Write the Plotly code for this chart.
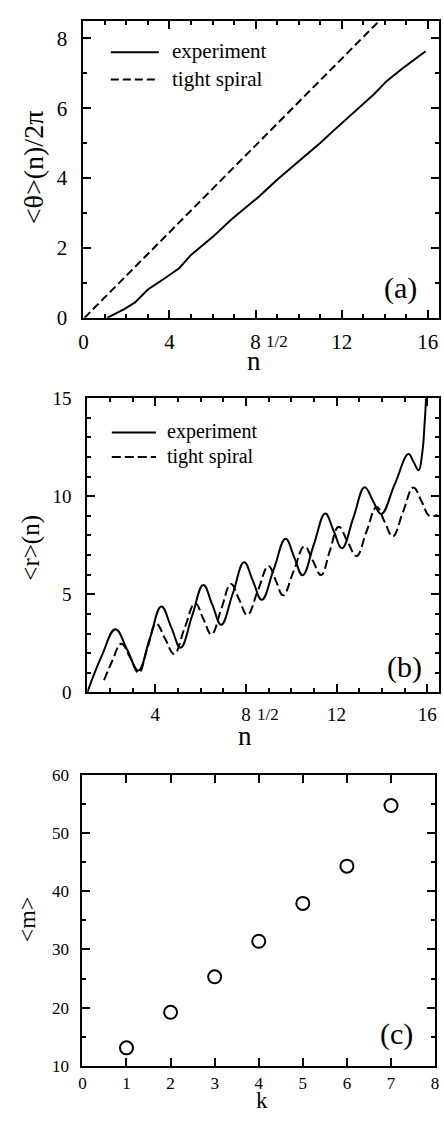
import plotly.graph_objects as go

W, H = 444, 1122

# ---------------- data ----------------
# panel (a): <theta>(n)/2pi vs n^{1/2}
a_exp_x = [1.1, 1.9, 2.4, 3.0, 3.8, 4.45, 5.0, 6.0, 6.9, 8.1, 9.0, 10.0, 11.0, 11.7, 12.7, 13.5, 14.1, 14.85, 15.9]
a_exp_y = [0.0, 0.25, 0.44, 0.81, 1.14, 1.42, 1.8, 2.31, 2.83, 3.44, 3.95, 4.47, 5.0, 5.4, 5.96, 6.4, 6.78, 7.15, 7.63]
a_tight_x = [0.05, 13.75]
a_tight_y = [0.0, 8.5]

# panel (b): <r>(n) vs n^{1/2}
b_exp_x = [1.0, 1.65, 2.24, 2.75, 3.25, 3.76, 4.27, 4.7, 5.12, 5.62, 6.12, 6.52, 6.91, 7.42, 7.92,
           8.31, 8.7, 9.23, 9.75, 10.13, 10.5, 11.0, 11.5, 11.87, 12.24, 12.74, 13.24, 13.6, 13.97,
           14.57, 15.17, 15.4, 15.62, 15.78, 15.88, 15.95]
b_exp_y = [0.0, 1.9, 3.22, 2.2, 1.12, 2.75, 4.38, 3.33, 2.28, 3.88, 5.48, 4.46, 3.45, 5.04, 6.63,
           5.68, 4.72, 6.28, 7.83, 6.9, 5.97, 7.55, 9.12, 8.24, 7.35, 8.9, 10.46, 9.78, 9.1,
           10.62, 12.15, 11.75, 11.33, 12.2, 13.6, 15.0]
b_tight_x = [1.74, 2.1, 2.5, 2.9, 3.27, 3.65, 4.04, 4.44, 4.83, 5.3, 5.76, 6.12, 6.48, 6.91, 7.34,
             7.7, 8.06, 8.53, 9.0, 9.32, 9.64, 10.11, 10.58, 10.95, 11.32, 11.7, 12.09, 12.48,
             12.88, 13.32, 13.77, 14.12, 14.48, 14.93, 15.39, 15.75, 16.1, 16.45]
b_tight_y = [0.62, 1.6, 2.48, 1.75, 1.0, 2.25, 3.5, 2.72, 1.95, 3.3, 4.55, 3.75, 2.95, 4.24, 5.53,
             4.74, 3.95, 5.2, 6.45, 5.7, 4.95, 6.2, 7.45, 6.72, 5.98, 7.2, 8.45, 7.7,
             6.95, 8.2, 9.45, 8.7, 7.95, 9.2, 10.45, 9.75, 9.0, 9.05]

# panel (c): <m> vs k
c_k = [1, 2, 3, 4, 5, 6, 7]
c_m = [13.1, 19.2, 25.3, 31.4, 37.9, 44.3, 54.7]

a_xticks = [0, 4, 8, 12, 16]
a_yticks = [0, 2, 4, 6, 8]
b_xticks = [4, 8, 12, 16]
b_yticks = [0, 5, 10, 15]
c_xticks = [0, 1, 2, 3, 4, 5, 6, 7, 8]
c_yticks = [10, 20, 30, 40, 50, 60]

# ---------------- layout helpers ----------------
def px(X):
    return X / W

def py(Y):
    return 1 - Y / H

SERIF = "Liberation Serif"

fig = go.Figure()

fig.add_trace(go.Scatter(x=a_exp_x, y=a_exp_y, mode="lines", line=dict(color="black", width=2),
                         xaxis="x", yaxis="y", showlegend=False))
fig.add_trace(go.Scatter(x=a_tight_x, y=a_tight_y, mode="lines", line=dict(color="black", width=2, dash="8px,4px"),
                         xaxis="x", yaxis="y", showlegend=False))
fig.add_trace(go.Scatter(x=b_exp_x, y=b_exp_y, mode="lines",
                         line=dict(color="black", width=2, shape="spline", smoothing=1.2),
                         xaxis="x2", yaxis="y2", showlegend=False))
fig.add_trace(go.Scatter(x=b_tight_x, y=b_tight_y, mode="lines",
                         line=dict(color="black", width=2, shape="spline", smoothing=1.2, dash="9px,4px"),
                         xaxis="x2", yaxis="y2", showlegend=False))
fig.add_trace(go.Scatter(x=c_k, y=c_m, mode="markers",
                         marker=dict(symbol="circle-open", size=13, color="black", line=dict(width=2, color="black")),
                         xaxis="x3", yaxis="y3", showlegend=False))

def ax(domain, rng, tickvals, fsize, minor_dtick, anchor, standoff):
    return dict(domain=domain, range=rng, tickvals=tickvals, ticktext=[str(v) for v in tickvals],
                ticks="inside", ticklen=8, tickwidth=1.5, tickcolor="black",
                showline=True, linecolor="black", linewidth=2, mirror="allticks",
                showgrid=False, zeroline=False, anchor=anchor,
                tickfont=dict(family=SERIF, size=fsize, color="black"),
                ticklabelstandoff=standoff,
                minor=dict(dtick=minor_dtick, ticks="inside", ticklen=4, tickwidth=1.5, tickcolor="black", showgrid=False))

layout = dict(
    width=W, height=H, margin=dict(l=0, r=0, t=0, b=0),
    paper_bgcolor="white", plot_bgcolor="white", showlegend=False,
    xaxis=ax([px(80), px(442.5)], [0, 16.5], a_xticks, 21, 1, "y", 4),
    yaxis=ax([py(314), py(11)], [0, 8.5], a_yticks, 21, 1, "x", 10),
    xaxis2=ax([px(84), px(442.5)], [1, 16.5], b_xticks, 19, 1, "y2", 4),
    yaxis2=ax([py(696), py(396)], [0, 15], b_yticks, 19, 1, "x2", 10),
    xaxis3=ax([px(79), px(439)], [0, 8], c_xticks, 17, 1, "y3", 1),
    yaxis3=ax([py(1077), py(780)], [10, 60], c_yticks, 17, 5, "x3", 8),
)
fig.update_layout(**layout)

shapes = []
annotations = []

def text(X, Y, s, size, xanchor="center", textangle=0, yanchor="middle"):
    annotations.append(dict(x=px(X), y=py(Y), xref="paper", yref="paper", text=s, showarrow=False,
                            xanchor=xanchor, yanchor=yanchor, textangle=textangle, borderpad=0,
                            font=dict(family=SERIF, size=size, color="black")))

def legline(X0, X1, Y, dash):
    shapes.append(dict(type="line", xref="paper", yref="paper", x0=px(X0), x1=px(X1), y0=py(Y), y1=py(Y),
                       line=dict(color="black", width=2, dash=dash)))

# legends
legline(108, 157, 43, "solid")
legline(108, 157, 71, "8px,4px")
text(169, 42, "experiment", 21, "left")
text(169, 70, "tight spiral", 21, "left")

legline(109, 154, 431, "solid")
legline(109, 154, 456, "9px,4px")
text(164, 430, "experiment", 20, "left")
text(164, 455, "tight spiral", 20, "left")

# axis titles
text(29, 160, "&lt;θ&gt;(n)/2π", 28, textangle=-90)
text(262, 358, "n", 27, "right")
text(265, 338, "1/2", 17, "left")

text(27, 548, "&lt;r&gt;(n)", 25, textangle=-90)
text(253, 741, "n", 27, "right")
text(256, 719, "1/2", 17, "left")

text(22, 928, "&lt;m&gt;", 24, textangle=-90)
text(262, 1099, "k", 23, yanchor="top")

# panel labels
text(404, 284, "(a)", 30)
text(408, 670, "(b)", 30)
text(400, 1044, "(c)", 30)

fig.update_layout(shapes=shapes, annotations=annotations)
fig.write_html("out.html", config={"displayModeBar": False},
               post_script="document.body.style.margin='0px';document.body.style.overflow='hidden';")
